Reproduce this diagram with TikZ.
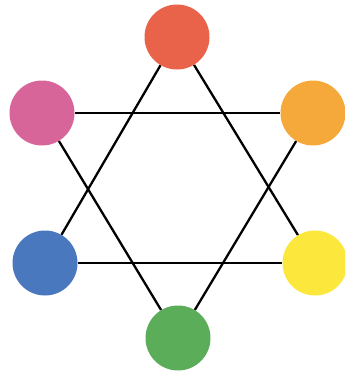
\documentclass[tikz,border=0pt]{standalone}
\usepackage{amssymb}
\usepackage{pgf, tikz}
\pgfdeclarelayer{edgelayer}
\pgfdeclarelayer{nodelayer}
\pgfsetlayers{edgelayer,nodelayer,main}
\definecolor{huered}{HTML}{E8634A}
\definecolor{huepink}{HTML}{D8659A}
\definecolor{hueorange}{HTML}{F6A93B}
\definecolor{hueblue}{HTML}{4A78BF}
\definecolor{hueyellow}{HTML}{FCE83C}
\definecolor{huegreen}{HTML}{5BAD5A}
\tikzstyle{none}=[inner sep=0pt]
\tikzstyle{thinedge}=[draw=black, line width=1.3pt]
\tikzstyle{edge}=[draw=black, line width=2.3pt]
\tikzstyle{hue}=[circle, draw=none, inner sep=0pt, minimum size=65pt]

\begin{document}
\begin{tikzpicture}[x=1pt, y=-1pt]
			\useasboundingbox (0, 0) rectangle (345, 376);
			\begin{pgfonlayer}{nodelayer}
			\node [style=hue, fill=huered] (0) at (177, 37) {};
			\node [style=hue, fill=hueorange] (1) at (313, 113) {};
			\node [style=hue, fill=hueyellow] (2) at (315, 263) {};
			\node [style=hue, fill=huegreen] (3) at (178, 338) {};
			\node [style=hue, fill=hueblue] (4) at (45, 263) {};
			\node [style=hue, fill=huepink] (5) at (42, 113) {};
			\end{pgfonlayer}
			\begin{pgfonlayer}{edgelayer}
			\draw [style=thinedge] (5) to (1);
			\draw [style=thinedge] (4) to (2);
			\draw [style=edge] (0) to (4);
			\draw [style=edge] (0) to (2);
			\draw [style=edge] (5) to (3);
			\draw [style=edge] (1) to (3);
			\end{pgfonlayer}
\end{tikzpicture}
\end{document}
